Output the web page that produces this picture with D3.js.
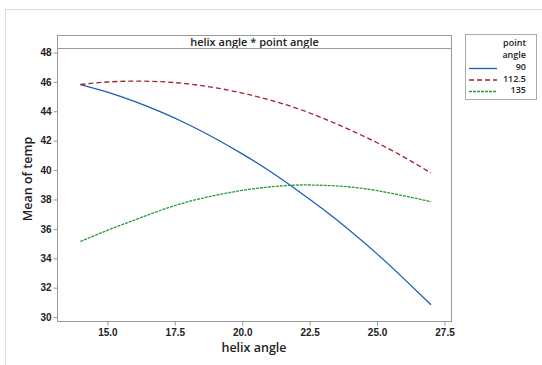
<!DOCTYPE html>
<html>
<head>
<meta charset="utf-8">
<script src="https://cdn.jsdelivr.net/npm/d3@7"></script>
<style>
  body { margin: 0; background: #fff; }
  svg { display: block; font-family: "Open Sans", "Noto Sans", sans-serif; }
  .axis text { font-size: 10px; font-weight: 600; fill: #222; }
  .axis path, .axis line { stroke: #999; }
</style>
</head>
<body>
<script>
// values
var helix = [14, 15, 16, 17, 18, 19, 20, 21, 22, 23, 24, 25, 26, 27];
var temp90 = [45.82, 45.3, 44.67, 43.94, 43.1, 42.15, 41.1, 39.95, 38.68, 37.33, 35.88, 34.3, 32.6, 30.84];
var temp112 = [45.82, 45.99, 46.05, 46.01, 45.86, 45.6, 45.24, 44.78, 44.22, 43.52, 42.73, 41.86, 40.88, 39.8];
var temp135 = [35.14, 35.9, 36.6, 37.28, 37.85, 38.28, 38.62, 38.85, 38.98, 38.96, 38.85, 38.6, 38.25, 37.85];
var pointAngles = ["90", "112.5", "135"];
var xTicks = [15, 17.5, 20, 22.5, 25, 27.5];
var yTicks = [30, 32, 34, 36, 38, 40, 42, 44, 46, 48];

var width = 542, height = 365;
var plot = {left: 57.5, right: 451.5, top: 48.5, bottom: 321.5};

var svg = d3.select("body").append("svg")
  .attr("width", width).attr("height", height);

// outer frame
svg.append("rect").attr("x", 5.5).attr("y", 9.5)
  .attr("width", 600).attr("height", 400)
  .attr("fill", "none").attr("stroke", "#ddd");

var x = d3.scaleLinear().domain([13.15, 27.76]).range([plot.left, plot.right]);
var y = d3.scaleLinear().domain([29.7, 48.27]).range([plot.bottom, plot.top]);

// title strip
svg.append("rect").attr("x", plot.left).attr("y", 35.5)
  .attr("width", plot.right - plot.left).attr("height", plot.top - 35.5)
  .attr("fill", "#fff").attr("stroke", "#999");
svg.append("text").attr("x", (plot.left + plot.right) / 2).attr("y", 45.5)
  .attr("text-anchor", "middle").attr("font-size", 11).attr("font-weight", 600)
  .attr("fill", "#222").text("helix angle * point angle");

// plot frame
svg.append("rect").attr("x", plot.left).attr("y", plot.top)
  .attr("width", plot.right - plot.left).attr("height", plot.bottom - plot.top)
  .attr("fill", "none").attr("stroke", "#999");

svg.append("g").attr("class", "axis")
  .attr("transform", "translate(0," + plot.bottom + ")")
  .call(d3.axisBottom(x).tickValues(xTicks).tickFormat(d3.format(".1f")).tickSize(4).tickSizeOuter(0))
  .call(function(g) { g.select(".domain").remove(); });

svg.append("g").attr("class", "axis")
  .attr("transform", "translate(" + plot.left + ",0)")
  .call(d3.axisLeft(y).tickValues(yTicks).tickSize(4).tickSizeOuter(0))
  .call(function(g) { g.select(".domain").remove(); g.selectAll("text").attr("x", -6); });

svg.append("text").attr("x", 254).attr("y", 352).attr("text-anchor", "middle")
  .attr("font-size", 12.5).attr("font-weight", 600).attr("fill", "#222").text("helix angle");
svg.append("text").attr("transform", "translate(32,179) rotate(-90)").attr("text-anchor", "middle")
  .attr("font-size", 12.5).attr("font-weight", 600).attr("fill", "#222").text("Mean of temp");

var series = [
  {name: pointAngles[0], values: temp90, color: "#1a5fb4", dash: null},
  {name: pointAngles[1], values: temp112, color: "#a3222a", dash: "5,3"},
  {name: pointAngles[2], values: temp135, color: "#2a9a3a", dash: "3,1"}
];

var line = d3.line()
  .x(function(d) { return x(d[0]); })
  .y(function(d) { return y(d[1]); })
  .curve(d3.curveNatural);

series.forEach(function(s) {
  var pts = helix.map(function(h, i) { return [h, s.values[i]]; });
  svg.append("path").attr("d", line(pts))
    .attr("fill", "none").attr("stroke", s.color).attr("stroke-width", 1.3)
    .attr("stroke-dasharray", s.dash);
});

// legend
var lg = svg.append("g").attr("font-size", 9).attr("font-weight", 600).attr("fill", "#222");
lg.append("rect").attr("x", 465.5).attr("y", 34.5).attr("width", 71).attr("height", 65)
  .attr("fill", "#fff").attr("stroke", "#aaa");
lg.append("text").attr("x", 526).attr("y", 46).attr("text-anchor", "end").text("point");
lg.append("text").attr("x", 526).attr("y", 57.5).attr("text-anchor", "end").text("angle");
series.forEach(function(s, i) {
  var cy = 68.5 + i * 11.5;
  lg.append("line").attr("x1", 469).attr("x2", 497).attr("y1", cy).attr("y2", cy)
    .attr("stroke", s.color).attr("stroke-width", 1.3).attr("stroke-dasharray", s.dash);
  lg.append("text").attr("x", 526).attr("y", cy + 1.5).attr("text-anchor", "end").text(s.name);
});
</script>
</body>
</html>
